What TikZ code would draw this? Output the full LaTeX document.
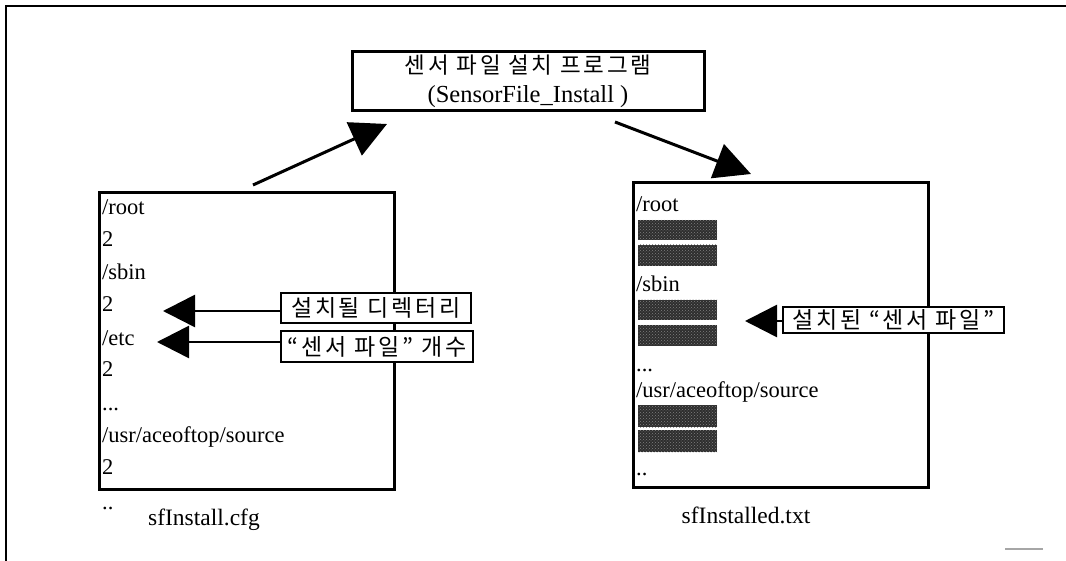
\documentclass[tikz,border=0pt]{standalone}
\usepackage{fontspec}
\setmainfont{Liberation Serif}
\newfontfamily\kr[LetterSpace=12]{Noto Sans CJK KR}
\usetikzlibrary{arrows.meta,patterns}

\begin{document}
\begin{tikzpicture}[x=1pt,y=-1pt,
  frame/.style={line width=2.6pt},
  filebox/.style={draw,line width=3pt,inner sep=0pt},
  tag/.style={draw,line width=2.8pt,inner sep=0pt,font=\kr\fontsize{23}{26}\selectfont},
  txt/.style={anchor=base west,inner sep=0pt,font=\fontsize{22.5}{27}\selectfont},
  filename/.style={anchor=base,inner sep=0pt,font=\fontsize{23.5}{28}\selectfont},
  bigarr/.style={line width=3pt,-{Triangle[length=36pt,width=36pt]}},
  arr/.style={line width=2.6pt,-{Triangle[length=32pt,width=32pt]}},
  masked/.style={fill=black!82,postaction={pattern=crosshatch dots,pattern color=black!50}}
]
\useasboundingbox (0,0) rectangle (1066,561);

% page frame
\draw[frame] (6,561) -- (6,6) -- (1066,6);
\draw[line width=2pt,black!35] (1005,549) -- (1043,549);

% installer program
\node[filebox,minimum width=352pt,minimum height=59pt,align=center,
      font=\fontsize{24.5}{29}\selectfont] (prog) at (528,81.5)
  {{\kr\fontsize{22.5}{29}\selectfont 센서 파일 설치 프로그램}\\(SensorFile\_Install~)};

% configuration file
\node[filebox,minimum width=295pt,minimum height=296pt] (cfg) at (246.5,341) {};
\node[txt] (c1) at (102,215) {/root};
\node[txt] (c2) at (102,247) {2};
\node[txt] (c3) at (102,280) {/sbin};
\node[txt] (c4) at (102,312) {2};
\node[txt] (c5) at (102,345) {/etc};
\node[txt] (c6) at (102,377) {2};
\node[txt] (c7) at (102,410) {...};
\node[txt] (c8) at (102,442) {/usr/aceoftop/source};
\node[txt] (c9) at (102,474) {2};
\node[txt] (c10) at (102,509) {..};
\node[filename] (cfgname) at (204,525) {sfInstall.cfg};

% installed list
\node[filebox,minimum width=295pt,minimum height=304pt] (lst) at (780.5,335) {};
\node[txt] (l1) at (636,212) {/root};
\fill[masked] (638,220) rectangle (717,240);
\fill[masked] (638,245) rectangle (717,266);
\node[txt] (l2) at (636,292) {/sbin};
\fill[masked] (638,300) rectangle (717,320);
\fill[masked] (638,325) rectangle (717,346);
\node[txt] (l3) at (636,371) {...};
\node[txt] (l4) at (636,397) {/usr/aceoftop/source};
\fill[masked] (638,405) rectangle (717,427);
\fill[masked] (638,430) rectangle (717,452);
\node[txt] (l5) at (636,475) {..};
\node[filename] (lstname) at (746,523) {sfInstalled.txt};

% explanations
\node[tag,fill=white,minimum width=190pt,minimum height=30pt] (dir) at (376,308) {설치될 디렉터리};
\node[tag,fill=white,minimum width=192pt,minimum height=31pt] (cnt) at (377,346.5) {“센서 파일” 개수};
\node[tag,fill=white,minimum width=221pt,minimum height=26pt] (inst) at (893.5,320) {설치된 “센서 파일”};

\coordinate (t1) at (163,311);
\coordinate (t2) at (157,342);
\coordinate (t3) at (745,321);
\draw[arr] (dir.west |- t1) -- (t1);
\draw[arr] (cnt.west |- t2) -- (t2);
\draw[arr] (inst.west |- t3) -- (t3);

% data flow
\coordinate (rd0) at (253,185);
\coordinate (rd1) at (387,124);
\coordinate (wr0) at (615,122);
\coordinate (wr1) at (751,174);
\draw[bigarr] (rd0) -- (rd1);
\draw[bigarr] (wr0) -- (wr1);
\end{tikzpicture}
\end{document}
